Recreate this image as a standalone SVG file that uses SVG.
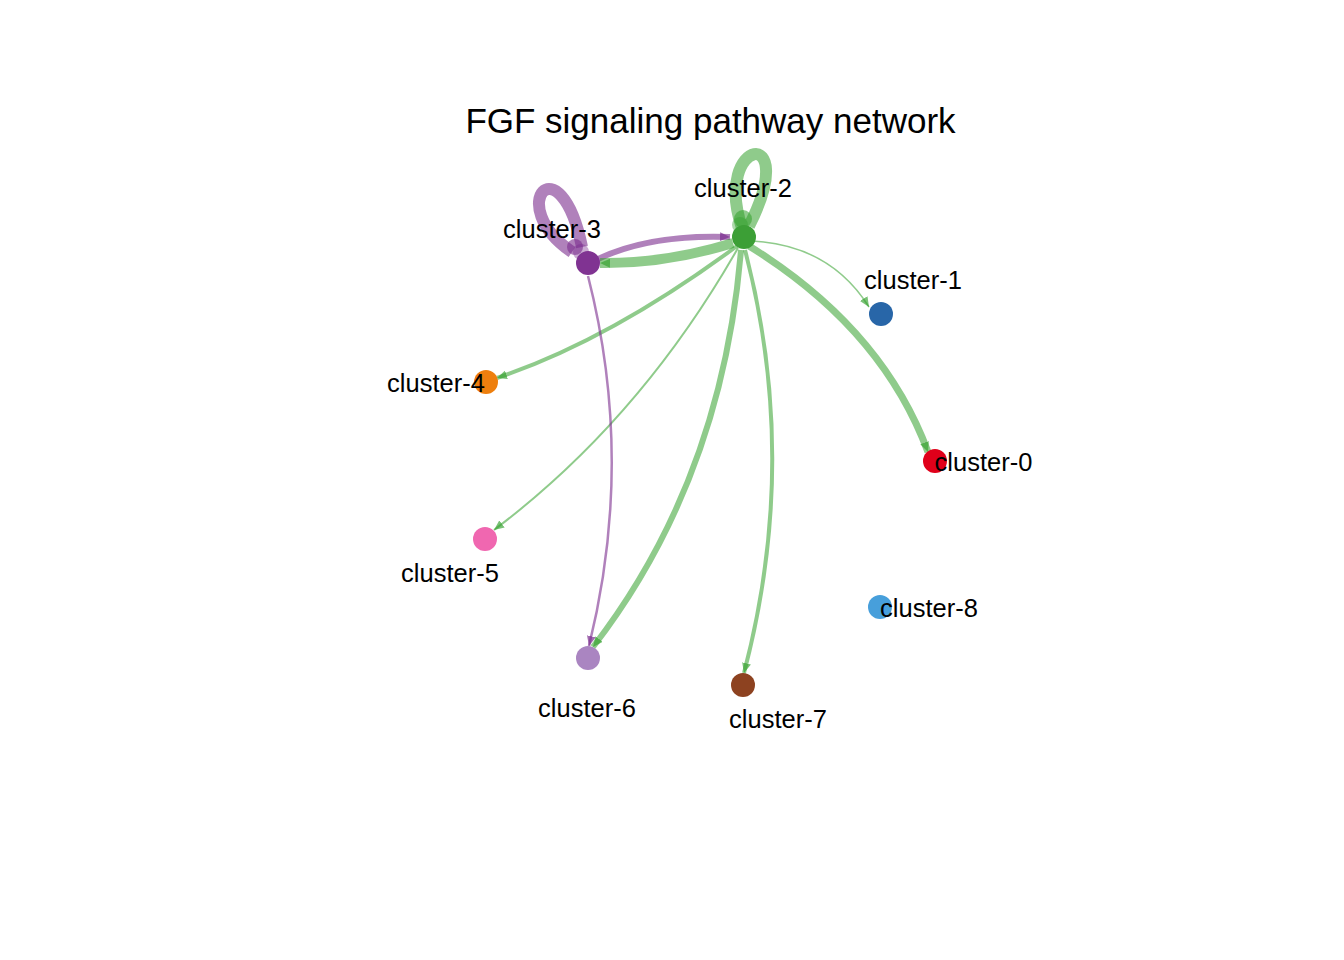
<svg xmlns="http://www.w3.org/2000/svg" width="1344" height="960" viewBox="0 0 1344 960">
<style>
  text { font-family: "Liberation Sans", Arial, sans-serif; fill: #000; }
  .lbl { font-size: 25.5px; text-anchor: middle; }
  .title { font-size: 35px; text-anchor: middle; }
  .eg { fill: none; stroke: #33a02c; stroke-opacity: 0.55; }
  .ep { fill: none; stroke: #7b2d8e; stroke-opacity: 0.6; }
</style>
<defs>
  <marker id="ag" markerUnits="userSpaceOnUse" markerWidth="11" markerHeight="9" refX="10" refY="4.5" orient="auto">
    <path d="M0,0 L10,4.5 L0,9 z" fill="#33a02c" fill-opacity="0.65"/>
  </marker>
  <marker id="ap" markerUnits="userSpaceOnUse" markerWidth="11" markerHeight="9" refX="10" refY="4.5" orient="auto">
    <path d="M0,0 L10,4.5 L0,9 z" fill="#7b2d8e" fill-opacity="0.7"/>
  </marker>
</defs>
<rect width="1344" height="960" fill="#fff"/>
<text class="title" x="710.5" y="133">FGF signaling pathway network</text>
<g id="connectors">
  <path class="eg" d="M742 228 C712 138 802 122 749 226" stroke-width="12"/>
  <path class="ep" d="M572 252 C503 205 560 140 582 247" stroke-width="12"/>
  <path class="ep" d="M598 259 Q650 234 730 237" stroke-width="6" marker-end="url(#ap)"/>
  <path class="eg" d="M733 243 Q665 264 600 263" stroke-width="10" marker-end="url(#ag)"/>
  <path class="eg" d="M752 241 Q830 245 869 307" stroke-width="1.5" marker-end="url(#ag)"/>
  <path class="eg" d="M749 246 Q882 328 928 452" stroke-width="7" marker-end="url(#ag)"/>
  <path class="eg" d="M737 246 Q610 340 497 378" stroke-width="4" marker-end="url(#ag)"/>
  <path class="eg" d="M738 248 Q640 420 494 530" stroke-width="2" marker-end="url(#ag)"/>
  <path class="eg" d="M741 250 Q722 480 593 647" stroke-width="6" marker-end="url(#ag)"/>
  <path class="eg" d="M745 250 Q800 460 744 673" stroke-width="4" marker-end="url(#ag)"/>
  <path class="ep" d="M588 276 Q635 460 589 646" stroke-width="2.5" marker-end="url(#ap)"/>
  <circle cx="743" cy="219" r="9" fill="#33a02c" fill-opacity="0.55"/>
  <circle cx="740" cy="225" r="8" fill="#33a02c" fill-opacity="0.4"/>
  <circle cx="575" cy="247" r="8" fill="#7b2d8e" fill-opacity="0.6"/>
  <circle cx="581" cy="252" r="8" fill="#7b2d8e" fill-opacity="0.4"/>
</g>
<g id="node-cluster-2"><circle cx="744" cy="237" r="12" fill="#3c9f36"/><text class="lbl" x="743" y="197">cluster-2</text></g>
<g id="node-cluster-3"><circle cx="588" cy="263" r="12" fill="#803392"/><text class="lbl" x="552" y="238">cluster-3</text></g>
<g id="node-cluster-1"><circle cx="881" cy="314" r="12" fill="#2866a8"/><text class="lbl" x="913" y="289">cluster-1</text></g>
<g id="node-cluster-4"><circle cx="486" cy="382" r="12" fill="#ee7f0e"/><text class="lbl" x="436" y="392">cluster-4</text></g>
<g id="node-cluster-0"><circle cx="935" cy="461" r="12" fill="#e0001a"/><text class="lbl" x="983.5" y="471">cluster-0</text></g>
<g id="node-cluster-5"><circle cx="485" cy="539" r="12" fill="#f067b0"/><text class="lbl" x="450" y="582">cluster-5</text></g>
<g id="node-cluster-8"><circle cx="880" cy="607" r="12" fill="#479fdb"/><text class="lbl" x="929" y="617">cluster-8</text></g>
<g id="node-cluster-6"><circle cx="588" cy="658" r="12" fill="#aa85c1"/><text class="lbl" x="587" y="717">cluster-6</text></g>
<g id="node-cluster-7"><circle cx="743" cy="685" r="12" fill="#8d4220"/><text class="lbl" x="778" y="728">cluster-7</text></g>
</svg>
